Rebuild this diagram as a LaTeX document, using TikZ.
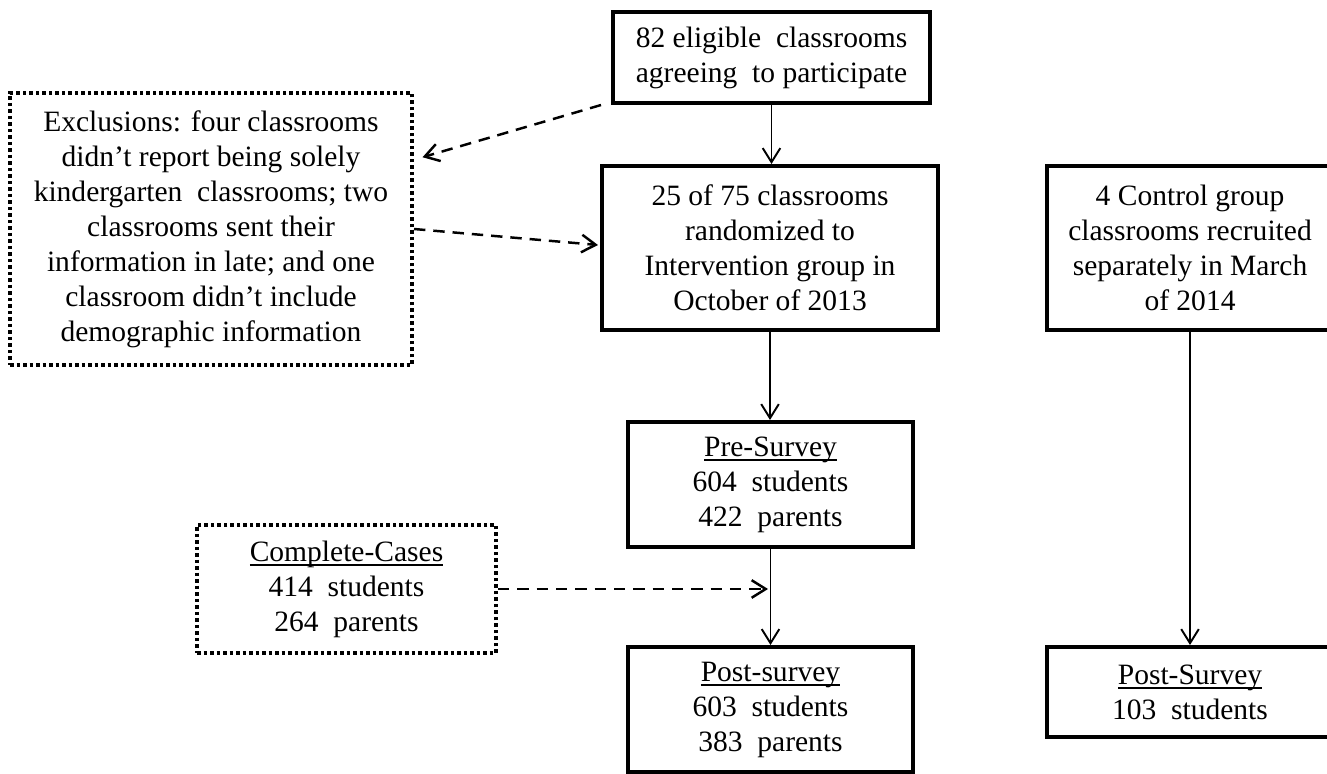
\documentclass[tikz,border=0pt]{standalone}
\usepackage{fontspec}
\setmainfont{Liberation Serif}
\usetikzlibrary{arrows.meta,calc}
\newcommand\ulined[1]{\setbox0\hbox{#1}\rlap{\rule[-2.6pt]{\wd0}{0.9pt}}#1}

\begin{document}
\begin{tikzpicture}[
        stage/.style={rectangle, draw, line width=2.3pt, align=center, inner sep=0pt, font=\fontsize{16.8}{19.9}\selectfont},
        note/.style={rectangle, draw, line width=2.3pt, dash pattern=on 2pt off 1.7pt, align=center, inner sep=0pt, font=\fontsize{16.8}{19.9}\selectfont},
        arrow/.style={-{Straight Barb[length=8pt, width=10pt]}, line width=1.1pt},
        dasharrow/.style={arrow, line width=1.4pt, dash pattern=on 6.5pt off 4.5pt}
    ]
\clip (0,0) rectangle (26.54,15.46);

% Intervention column
        \node[stage, minimum width=6.34cm, minimum height=1.82cm] (eligible) at (15.43,14.31) {82 eligible\ \ classrooms\\agreeing\ \ to participate};
        \node[stage, minimum width=6.72cm, minimum height=3.28cm] (random) at (15.40,10.50) {25 of 75 classrooms\\randomized to\\Intervention group in\\October of 2013};
        \node[stage, minimum width=5.70cm, minimum height=2.50cm] (pre) at (15.41,5.77) {\ulined{Pre-Survey}\\604\ \ students\\422\ \ parents};
        \node[stage, minimum width=5.70cm, minimum height=2.50cm] (post) at (15.41,1.27) {\ulined{Post-survey}\\603\ \ students\\383\ \ parents};

% Control column
        \node[stage, minimum width=5.72cm, minimum height=3.28cm] (control) at (23.80,10.50) {4 Control group\\classrooms recruited\\separately in March\\of 2014};
        \node[stage, minimum width=5.72cm, minimum height=1.80cm] (cpost) at (23.80,1.62) {\ulined{Post-Survey}\\103\ \ students};

% Side notes
        \node[note, minimum width=8.04cm, minimum height=5.44cm] (excl) at (4.22,10.88) {Exclusions: four classrooms\\didn’t report being solely\\kindergarten\ \ classrooms; two\\classrooms sent their\\information in late; and one\\classroom didn’t include\\demographic information};
        \node[note, minimum width=5.98cm, minimum height=2.56cm] (complete) at (6.93,3.68) {\ulined{Complete-Cases}\\414\ \ students\\264\ \ parents};

        \coordinate (exclin) at ($(excl.north east)!0.24!(excl.south east)+(0.17,0)$);
        \coordinate (dropout) at ($(complete.east -| pre.south)+(-0.05,0)$);

% Arrows
        \draw[arrow] (eligible.south) -- (eligible.south |- random.north);
        \draw[arrow] (random.south) -- (random.south |- pre.north);
        \draw[arrow] (pre.south) -- (pre.south |- post.north);
        \draw[arrow] (control.south) -- (cpost.north);
        \draw[dasharrow] ([xshift=-0.2cm]eligible.south west) -- (exclin);
        \draw[dasharrow] (excl.east) -- ([shift={(-0.04,0.06)}]random.west);
        \draw[dasharrow] (complete.east) -- (dropout);
    \end{tikzpicture}
\end{document}
